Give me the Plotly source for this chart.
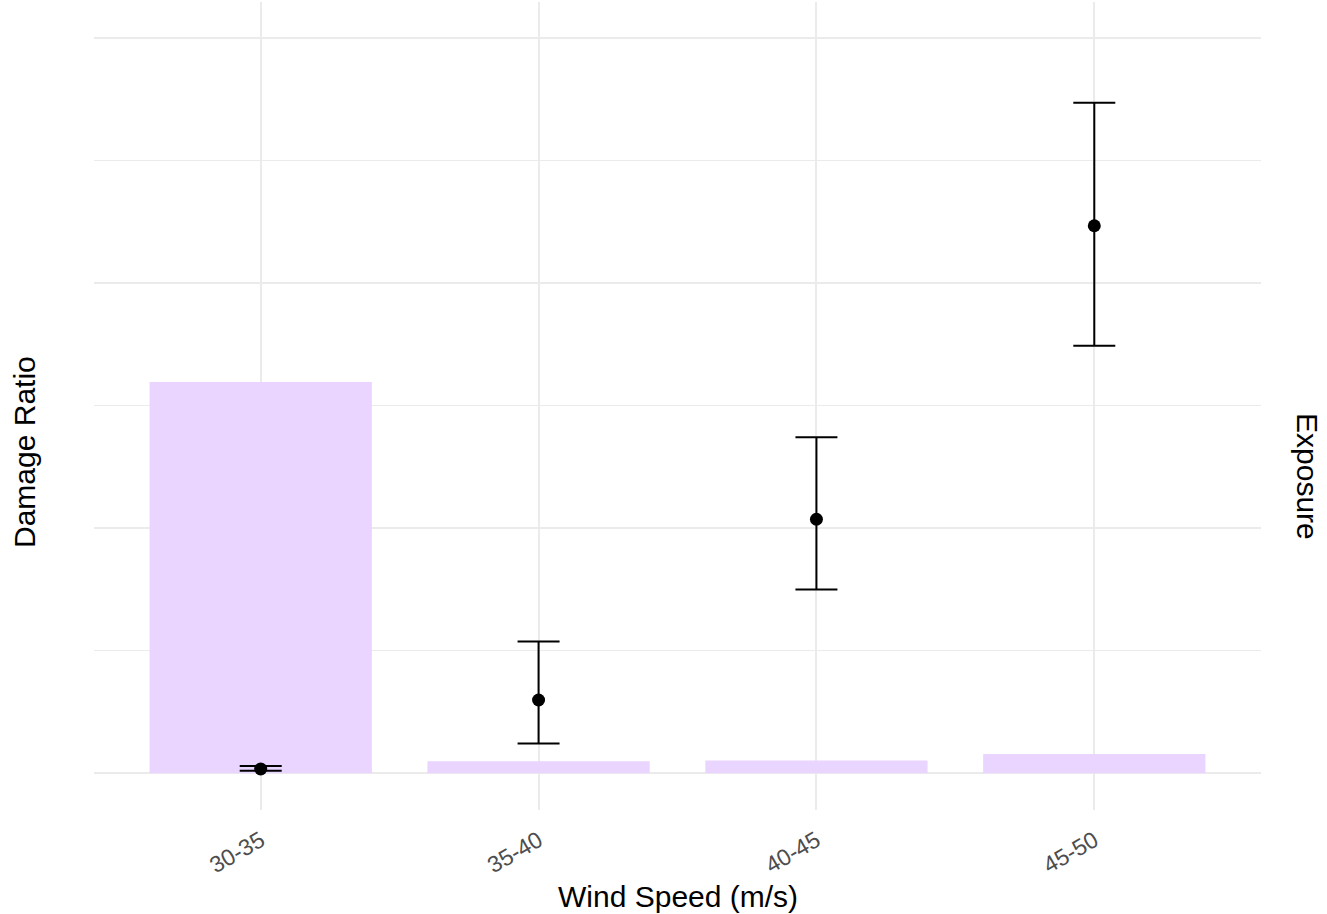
import plotly.graph_objects as go

# ---- data ----
wind_bins = ["30-35", "35-40", "40-45", "45-50"]
damage_ratio = [0.00175, 0.0299, 0.1036, 0.2233]
damage_upper = [0.0030, 0.0537, 0.1370, 0.2735]
damage_lower = [0.0010, 0.0121, 0.0750, 0.1744]
exposure = [1596, 49, 52, 79]

# secondary-axis scale factor (exposure units per damage-ratio unit)
k = 10000
dr_range = [-0.01497, 0.31456]
major_vals = [0.0, 0.1, 0.2, 0.3]
minor_vals = [0.05, 0.15, 0.25]

err_plus = [u - m for u, m in zip(damage_upper, damage_ratio)]
err_minus = [m - l for m, l in zip(damage_ratio, damage_lower)]

FONT = "Liberation Sans, Arial, sans-serif"

fig = go.Figure()
fig.add_trace(go.Bar(
    x=wind_bins, y=exposure, width=0.8,
    marker=dict(color="#E9D5FF", line=dict(width=0)),
    yaxis="y", showlegend=False,
))
fig.add_trace(go.Scatter(
    x=wind_bins, y=damage_ratio, mode="markers",
    marker=dict(color="black", size=13),
    error_y=dict(type="data", symmetric=False, array=err_plus,
                 arrayminus=err_minus, color="black", thickness=2, width=21),
    yaxis="y2", showlegend=False,
))

fig.update_layout(
    width=1327, height=914,
    margin=dict(l=94, r=66, t=2, b=104),
    paper_bgcolor="white", plot_bgcolor="white",
    font=dict(family=FONT, color="black"),
    bargap=0.2,
    xaxis=dict(
        range=[-0.6, 3.6], showgrid=True, gridcolor="#EBEBEB", gridwidth=1.6,
        zeroline=False, showline=False, ticks="", tickangle=-30,
        ticklabelstandoff=12,
        tickfont=dict(size=23, color="#4D4D4D", family=FONT),
    ),
    yaxis=dict(
        range=[v * k for v in dr_range], showticklabels=False, ticks="",
        tickmode="array", tickvals=[v * k for v in major_vals],
        showgrid=True, gridcolor="#EBEBEB", gridwidth=1.6, zeroline=False,
        minor=dict(tickmode="array", tickvals=[v * k for v in minor_vals],
                   showgrid=True, gridcolor="#EBEBEB", gridwidth=0.8),
    ),
    yaxis2=dict(
        range=dr_range, overlaying="y", side="right", showgrid=False,
        showticklabels=False, ticks="", zeroline=False,
    ),
    annotations=[
        dict(text="Wind Speed (m/s)", xref="paper", yref="paper",
             x=0.5, y=(810 - 896) / 808, xanchor="center", yanchor="middle",
             showarrow=False, font=dict(size=30, color="black", family=FONT)),
        dict(text="Damage Ratio", xref="paper", yref="paper",
             x=(24 - 94) / 1167, y=(810 - 452) / 808, xanchor="center",
             yanchor="middle", textangle=-90, showarrow=False,
             font=dict(size=30, color="black", family=FONT)),
        dict(text="Exposure", xref="paper", yref="paper",
             x=(1308 - 94) / 1167, y=(810 - 476) / 808, xanchor="center",
             yanchor="middle", textangle=90, showarrow=False,
             font=dict(size=30, color="black", family=FONT)),
    ],
)

fig.write_html("out.html",
               config={"displayModeBar": False},
               post_script="document.body.style.margin='0';"
                           "document.body.style.padding='0';")
